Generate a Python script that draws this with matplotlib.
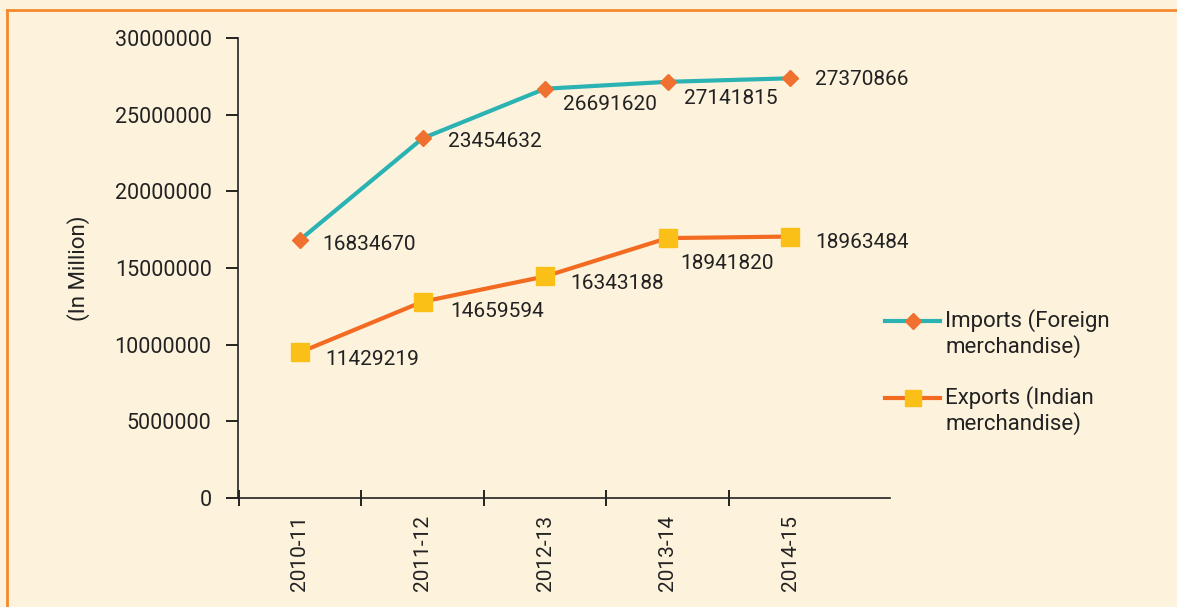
import numpy as np
import matplotlib.pyplot as plt
from matplotlib.lines import Line2D

plt.rcParams['font.family'] = ['Roboto', 'DejaVu Sans']

# Data
years = ["2010-11", "2011-12", "2012-13", "2013-14", "2014-15"]
imports_vals = [16834670, 23454632, 26691620, 27141815, 27370866]
# exports line sits lower in the picture than its printed labels
exports_plot = [9500000, 12800000, 14450000, 16950000, 17050000]
exports_labels = [11429219, 14659594, 16343188, 18941820, 18963484]
series_names = ["Imports (Foreign\nmerchandise)", "Exports (Indian\nmerchandise)"]

bg = "#fdf3dd"
teal = "#2bb3b3"
orange = "#f26b21"
yellow = "#fac018"
txt = "#222222"

fig = plt.figure(figsize=(11.77, 6.07), dpi=100, facecolor=bg)
ax = fig.add_axes([0.2022, 0.1796, 0.5540, 0.7578])
ax.set_facecolor(bg)

x = np.arange(len(years))
imp_style = dict(color=teal, lw=3, marker="D", ms=8.5, mfc="#f07030", mec="#f07030")
exp_style = dict(color=orange, lw=3, marker="s", ms=13, mfc=yellow, mec=yellow)
ax.plot(x, imports_vals, **imp_style)
ax.plot(x, exports_plot, **exp_style)

# data labels (offsets in points)
imp_off = [(16, -3), (18, -2), (13, -11.5), (11.5, -12), (18, -1)]
exp_off = [(18, -5), (20, -7), (18, -5), (9, -18), (18, -4)]
for i in range(len(years)):
    ax.annotate(str(imports_vals[i]), (x[i], imports_vals[i]), xytext=imp_off[i],
                textcoords="offset points", fontsize=15, color=txt,
                va="center", ha="left")
    ax.annotate(str(exports_labels[i]), (x[i], exports_plot[i]), xytext=exp_off[i],
                textcoords="offset points", fontsize=15, color=txt,
                va="center", ha="left")

ax.set_xlim(-0.506, 4.816)
ax.set_ylim(0, 30000000)
ax.set_yticks(np.arange(0, 30000001, 5000000))
ax.set_yticklabels([str(v) for v in range(0, 30000001, 5000000)], fontsize=15.5, color=txt)
ax.tick_params(axis="y", length=9, width=1.2, pad=10)

ax.set_xticks(x)
ax.set_xticklabels(years, rotation=90, fontsize=15, color=txt)
ax.tick_params(axis="x", length=0, pad=12)
ax.set_xticks([-0.5, 0.5, 1.5, 2.5, 3.5], minor=True)
ax.tick_params(axis="x", which="minor", length=12, width=1.2, direction="inout")

for s in ["top", "right"]:
    ax.spines[s].set_visible(False)
for s in ["left", "bottom"]:
    ax.spines[s].set_linewidth(1.2)
    ax.spines[s].set_color(txt)

ax.set_ylabel("(In Million)", fontsize=16, color=txt, labelpad=18)

# legend: handle aligned with first text line
leg_y = [0.4709, 0.3440]
for name, st, yy, msz in zip(series_names, [imp_style, exp_style], leg_y, [8, 11]):
    fig.add_artist(Line2D([0.752, 0.799], [yy, yy], transform=fig.transFigure,
                          color=st["color"], lw=st["lw"]))
    fig.add_artist(Line2D([0.7755], [yy], transform=fig.transFigure, ls="none",
                          marker=st["marker"], ms=msz, mfc=st["mfc"], mec=st["mec"]))
    fig.text(0.803, yy + 0.02, name, fontsize=16, color=txt, va="top", ha="left",
             linespacing=1.15)

# orange border on top and left
fig.add_artist(Line2D([0.006, 1.0], [0.9835, 0.9835], transform=fig.transFigure,
                      color="#f4892f", lw=2))
fig.add_artist(Line2D([0.006, 0.006], [0.0, 0.9835], transform=fig.transFigure,
                      color="#f4892f", lw=2))

fig.savefig("out.png", dpi=100, facecolor=bg)
